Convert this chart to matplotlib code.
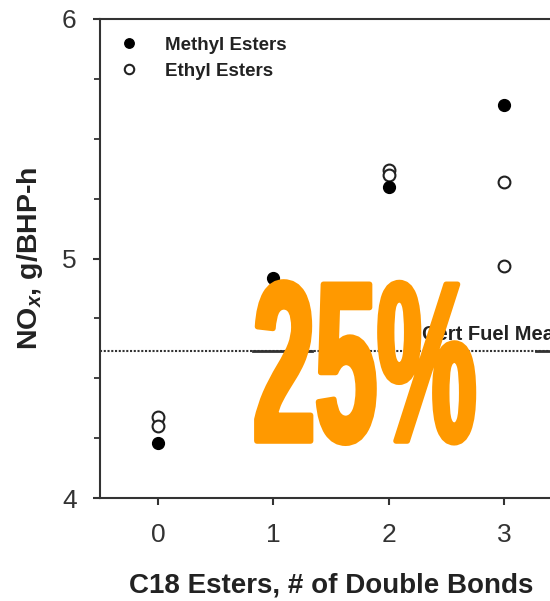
import matplotlib
matplotlib.use("Agg")
import matplotlib.pyplot as plt
from matplotlib.patheffects import AbstractPathEffect
from matplotlib.transforms import Affine2D
from matplotlib.ticker import MultipleLocator

plt.rcParams['font.family'] = ['Liberation Sans', 'DejaVu Sans']
plt.rcParams['mathtext.fontset'] = 'custom'
plt.rcParams['mathtext.it'] = 'Liberation Sans:bold:italic'
plt.rcParams['mathtext.rm'] = 'Liberation Sans:bold'

# NOx emissions vs. number of double bonds in C18 esters
methyl_bonds = [0, 1, 2, 3]
methyl_nox = [4.23, 4.92, 5.30, 5.64]
ethyl_bonds = [0, 0, 1, 2, 2, 3, 3]
ethyl_nox = [4.34, 4.30, 4.86, 5.37, 5.35, 5.32, 4.97]
cert_fuel_mean = 4.614
x_ticks = [0, 1, 2, 3]
y_ticks = [4, 5, 6]

ORANGE = '#ff9900'
INK = '#222222'


class Squeeze(AbstractPathEffect):
    """Horizontally compress a text path around x0 (display px) and fatten it."""

    def __init__(self, sx, x0, lw, color):
        super().__init__()
        self.sx, self.x0, self.lw, self.color = sx, x0, lw, color

    def draw_path(self, renderer, gc, tpath, affine, rgbFace=None):
        squeeze = Affine2D().translate(-self.x0, 0).scale(self.sx, 1).translate(self.x0, 0)
        gc0 = renderer.new_gc()
        gc0.copy_properties(gc)
        gc0.set_linewidth(self.lw)
        gc0.set_foreground(self.color)
        gc0.set_joinstyle('round')
        renderer.draw_path(gc0, tpath, affine + squeeze, rgbFace)
        gc0.restore()


fig = plt.figure(figsize=(5.5, 6.01), dpi=100)
ax = fig.add_axes([100.3 / 550, 103 / 601, 542 / 550, 479 / 601])

ax.axhline(cert_fuel_mean, color='#333333', lw=1.5, ls=(0, (1, 0.8)), zorder=1)
ax.plot([0.82, 1.34], [cert_fuel_mean] * 2, color='#333333', lw=2, zorder=1)
ax.plot([3.28, 4.3], [cert_fuel_mean] * 2, color='#333333', lw=2, zorder=1)
ax.text(2.29, 4.66, 'Cert Fuel Mean', fontsize=14.5, fontweight='bold', color=INK)

ax.plot(ethyl_bonds, ethyl_nox, 'o', ls='none', ms=8.5, mfc='white', mec='#222222',
        mew=1.5, label='Ethyl Esters', zorder=3)
ax.plot(methyl_bonds, methyl_nox, 'o', ls='none', ms=8.5, color='black',
        label='Methyl Esters', zorder=4)

ax.set_xlim(-0.5, 4.2)
ax.set_ylim(4, 6)
ax.set_xticks(x_ticks)
ax.set_yticks(y_ticks)
ax.yaxis.set_minor_locator(MultipleLocator(0.25))
ax.tick_params(axis='both', which='major', direction='out', length=5, width=1.5,
               labelsize=19, labelcolor='#333333', color='#333333')
ax.tick_params(axis='y', which='major', pad=12)
ax.tick_params(axis='x', which='major', pad=13)
ax.tick_params(axis='y', which='minor', direction='out', length=4, width=1.3, color='#333333')
ax.spines['right'].set_visible(False)
for side in ('left', 'bottom', 'top'):
    ax.spines[side].set_linewidth(1.5)
    ax.spines[side].set_color('#333333')

ax.set_xlabel('C18 Esters, # of Double Bonds', fontsize=20, fontweight='bold',
              color=INK)
ax.xaxis.set_label_coords((331 - 100.3) / 542, -0.155)
ax.set_ylabel(r'NO$_{x}$, g/BHP-h', fontsize=20.5, fontweight='bold', color=INK, labelpad=12)

handles, labels = ax.get_legend_handles_labels()
leg = ax.legend(handles[::-1], labels[::-1], loc='upper left', frameon=False,
                fontsize=13.5, markerscale=0.8, handlelength=1.2, handletextpad=1.3,
                labelspacing=0.5, borderaxespad=0.4, bbox_to_anchor=(0.005, 0.995))
for t in leg.get_texts():
    t.set_fontweight('bold')
    t.set_color(INK)

# big orange overlay label
x0 = 253
fig.text(x0 / 550, 160 / 601, '25%', fontsize=164, fontweight='bold', color=ORANGE,
         ha='left', va='baseline', zorder=10,
         path_effects=[Squeeze(0.49, x0, 4, ORANGE)])

fig.savefig('out.png', dpi=100)
